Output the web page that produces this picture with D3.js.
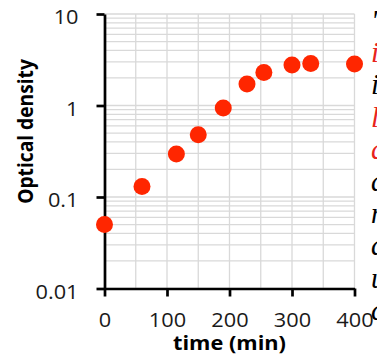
<!DOCTYPE html>
<html><head><meta charset="utf-8">
<script src="https://cdn.jsdelivr.net/npm/d3@7"></script>
<style>
html,body{margin:0;padding:0;background:#fff;}
svg{display:block;}
</style></head>
<body>
<svg id="chart" width="377" height="360"></svg>
<script>
const times = [0, 60, 115, 150, 190, 228, 255, 300, 330, 400];
const density = [0.05, 0.13, 0.295, 0.48, 0.94, 1.72, 2.3, 2.77, 2.88, 2.84];
const xTicks = [0, 100, 200, 300, 400];
const yTicks = [0.01, 0.1, 1, 10];
const yTickLabels = ["0.01", "0.1", "1", "10"];
const sideLetters = ["'", "i", "i", "l", "q", "a", "n", "a", "u", "c"];
const sideColors = ["#000", "#e8231c", "#000", "#e8231c", "#e8231c", "#000", "#000", "#000", "#000", "#000"];

const svg = d3.select("#chart");
const x = d3.scaleLinear().domain([0, 400]).range([104.5, 354.5]);
const y = d3.scaleLog().domain([0.01, 10]).range([288.5, 14]);
const stretch = 1.11;

// grid
const hGrid = [];
[0.01, 0.1, 1].forEach(d => { for (let k = 1; k <= 9; k++) hGrid.push(d * k); });
hGrid.push(10);
const vGrid = d3.range(50, 401, 50);
const g = svg.append("g");
g.selectAll("line.h").data(hGrid).join("line")
  .attr("x1", x(0)).attr("x2", x(400))
  .attr("y1", d => y(d)).attr("y2", d => y(d))
  .attr("stroke", "#d9d9d9").attr("stroke-width", 1.3);
g.selectAll("line.v").data(vGrid).join("line")
  .attr("x1", d => x(d)).attr("x2", d => x(d))
  .attr("y1", y(10)).attr("y2", y(0.01))
  .attr("stroke", "#d9d9d9").attr("stroke-width", 1.3);

function widen(sel) {
  sel.each(function () {
    const len = this.getComputedTextLength();
    d3.select(this).attr("textLength", len * stretch).attr("lengthAdjust", "spacingAndGlyphs");
  });
}

// axes
const fontFam = "'Open Sans', sans-serif";
const xAxis = svg.append("g").attr("transform", `translate(0,${y(0.01)})`)
  .call(d3.axisBottom(x).tickValues(xTicks).tickSize(8).tickPadding(17).tickSizeOuter(0));
const yAxis = svg.append("g").attr("transform", `translate(${x(0)},0)`)
  .call(d3.axisLeft(y).tickValues(yTicks).tickSize(8).tickPadding(18).tickSizeOuter(0)
    .tickFormat((d, i) => yTickLabels[i]));
[xAxis, yAxis].forEach(a => {
  a.select(".domain").attr("stroke", "#000").attr("stroke-width", 2.7);
  a.selectAll(".tick line").attr("stroke", "#000").attr("stroke-width", 2.7);
  a.selectAll(".tick text").attr("fill", "#1a1a1a").attr("font-family", fontFam).attr("font-size", 19.6);
  widen(a.selectAll(".tick text"));
});
yAxis.selectAll(".tick text").attr("dy", "0.5em");

// points
svg.append("g").selectAll("circle").data(times).join("circle")
  .attr("cx", (d) => x(d)).attr("cy", (d, i) => y(density[i]))
  .attr("r", 8.5).attr("fill", "#ff2600");

// titles
const xt = svg.append("text").attr("x", x(200)).attr("y", 350).attr("text-anchor", "middle")
  .attr("font-family", fontFam).attr("font-weight", "bold").attr("font-size", 19.6)
  .attr("fill", "#000").text("time (min)");
widen(xt);
svg.append("text").attr("transform", `translate(33,131.5) rotate(-90) scale(1,${stretch})`).attr("text-anchor", "middle")
  .attr("font-family", fontFam).attr("font-weight", "bold").attr("font-size", 19.2)
  .attr("fill", "#000").text("Optical density");

// cropped side text
svg.append("g").selectAll("text").data(sideLetters).join("text")
  .attr("x", 371).attr("y", (d, i) => 30 + 32.2 * i)
  .attr("font-family", "'Liberation Serif', serif").attr("font-style", "italic")
  .attr("font-size", 29).attr("fill", (d, i) => sideColors[i]).text(d => d);
</script>
</body></html>
